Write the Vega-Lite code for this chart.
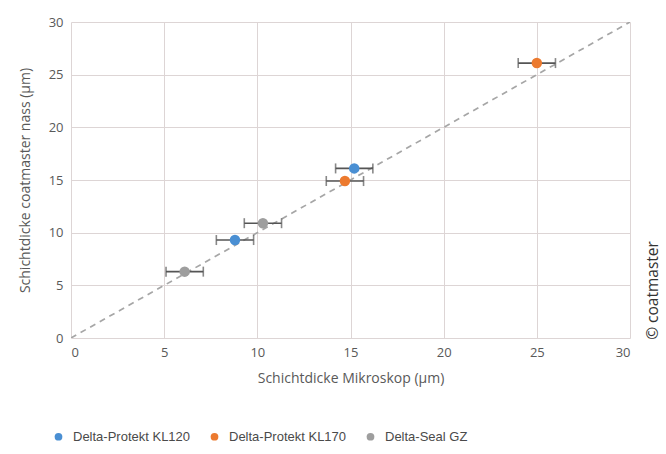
{
  "$schema": "https://vega.github.io/schema/vega-lite/v6.json",
  "width": 559,
  "height": 316,
  "autosize": "none",
  "padding": {"left": 71, "top": 22, "right": 36, "bottom": 116},
  "background": "white",
  "config": {
    "view": {"stroke": null},
    "axis": {
      "labelFont": "Open Sans", "labelFontSize": 13, "labelColor": "#595959",
      "titleFont": "Open Sans", "titleFontSize": 14, "titleColor": "#595959", "titleFontWeight": "normal",
      "gridColor": "#ddd5d5", "gridWidth": 1, "ticks": false, "domain": false, "labelPadding": 8
    },
    "legend": {
      "labelFont": "Liberation Sans", "labelFontSize": 13, "labelColor": "#4a4a4a"
    }
  },
  "datasets": {
    "pts": [
      {"series": "Delta-Seal GZ", "x": 6.1, "y": 6.3, "err": 1},
      {"series": "Delta-Protekt KL120", "x": 8.8, "y": 9.3, "err": 1},
      {"series": "Delta-Seal GZ", "x": 10.3, "y": 10.9, "err": 1},
      {"series": "Delta-Protekt KL170", "x": 14.7, "y": 14.9, "err": 1},
      {"series": "Delta-Protekt KL120", "x": 15.2, "y": 16.1, "err": 1},
      {"series": "Delta-Protekt KL170", "x": 25.0, "y": 26.1, "err": 1}
    ],
    "diag": [{"x": 0, "y": 0}, {"x": 30, "y": 30}]
  },
  "resolve": {"axis": {"y": "independent"}},
  "layer": [
    {
      "data": {"name": "diag"},
      "mark": {"type": "line", "color": "#a6a6a6", "strokeWidth": 1.7, "strokeDash": [6, 5], "clip": true},
      "encoding": {
        "x": {"field": "x", "type": "quantitative", "scale": {"domain": [0, 30]}, "title": "Schichtdicke Mikroskop (µm)", "axis": {"values": [0, 5, 10, 15, 20, 25, 30], "grid": true, "titlePadding": 12}},
        "y": {"field": "y", "type": "quantitative", "scale": {"domain": [0, 30]}, "title": "Schichtdicke coatmaster nass (µm)", "axis": {"values": [0, 5, 10, 15, 20, 25, 30], "grid": true, "titlePadding": 16}}
      }
    },
    {
      "data": {"name": "pts"},
      "mark": {"type": "errorbar", "color": "#555555", "thickness": 1.6, "ticks": {"size": 10, "thickness": 1.6, "color": "#555555"}},
      "encoding": {
        "x": {"field": "x", "type": "quantitative", "title": "Schichtdicke Mikroskop (µm)", "axis": {"values": [0, 5, 10, 15, 20, 25, 30], "grid": true, "titlePadding": 12}},
        "xError": {"field": "err"},
        "y": {"field": "y", "type": "quantitative", "axis": null}
      }
    },
    {
      "data": {"name": "pts"},
      "mark": {"type": "circle", "size": 110, "opacity": 1},
      "encoding": {
        "x": {"field": "x", "type": "quantitative", "title": "Schichtdicke Mikroskop (µm)", "axis": {"values": [0, 5, 10, 15, 20, 25, 30], "grid": true, "titlePadding": 12}},
        "y": {"field": "y", "type": "quantitative", "axis": null},
        "color": {
          "field": "series", "type": "nominal",
          "scale": {"domain": ["Delta-Protekt KL120", "Delta-Protekt KL170", "Delta-Seal GZ"], "range": ["#4a8fd3", "#ec7a2f", "#9e9e9e"]},
          "legend": {"title": null, "orient": "none", "direction": "horizontal", "legendX": -19, "legendY": 408, "symbolType": "circle", "symbolSize": 60, "columnPadding": 17, "labelOffset": 8}
        }
      }
    },
    {
      "data": {"name": "pts"},
      "mark": {"type": "circle", "opacity": 0},
      "encoding": {
        "x": {"field": "x", "type": "quantitative", "title": "Schichtdicke Mikroskop (µm)", "axis": {"values": [0, 5, 10, 15, 20, 25, 30], "grid": true, "titlePadding": 12}},
        "y": {"field": "y", "type": "quantitative", "axis": {"orient": "right", "labels": false, "grid": false, "ticks": false, "domain": false, "title": "© coatmaster", "titleFontSize": 15.5, "titleColor": "#333333", "titleAngle": 270, "titleX": 22, "titleY": 268, "titleAlign": "center", "titleBaseline": "middle"}}
      }
    }
  ]
}
